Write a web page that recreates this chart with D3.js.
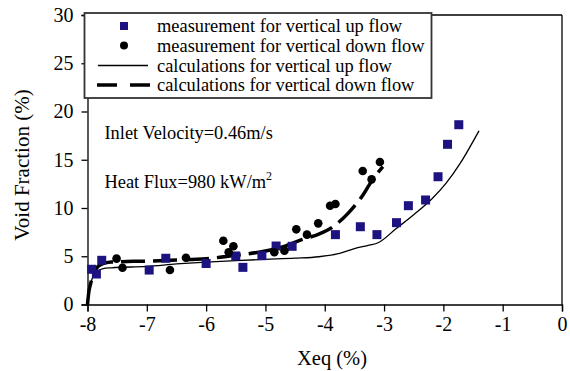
<!DOCTYPE html>
<html><head><meta charset="utf-8">
<script src="https://cdn.jsdelivr.net/npm/d3@7"></script>
<style>body{margin:0;background:#fff}svg{display:block}text{font-family:"Liberation Serif","Times New Roman",serif;fill:#000}</style>
</head><body>
<svg id="c" width="570" height="371"></svg>
<script>
const xTicks = [-8,-7,-6,-5,-4,-3,-2,-1,0];
const yTicks = [0,5,10,15,20,25,30];
const upX = [-7.93,-7.85,-7.76,-6.96,-6.68,-6.0,-5.50,-5.38,-5.06,-4.82,-4.55,-3.82,-3.40,-3.12,-2.79,-2.59,-2.30,-2.09,-1.93,-1.74];
const upY = [3.65,3.16,4.58,3.57,4.79,4.25,5.03,3.85,5.06,6.06,6.03,7.24,8.06,7.24,8.48,10.24,10.83,13.24,16.6,18.63];
const downX = [-7.51,-7.41,-6.61,-6.34,-5.71,-5.62,-5.54,-4.85,-4.68,-4.48,-4.30,-4.11,-3.91,-3.82,-3.36,-3.21,-3.07];
const downY = [4.75,3.81,3.57,4.85,6.61,5.41,6.03,5.41,5.58,7.79,7.24,8.41,10.24,10.41,13.83,12.97,14.77];
const calcUpX = [-8,-7.98,-7.95,-7.92,-7.88,-7.83,-7.75,-7.6,-7.0,-6.5,-6.0,-5.5,-5.0,-4.5,-4.1,-3.75,-3.5,-3.25,-3.1,-2.8,-2.5,-2.2,-1.95,-1.72,-1.4];
const calcUpY = [0,1.2,2.1,2.7,3.1,3.45,3.7,3.8,3.95,4.2,4.4,4.55,4.68,4.8,4.95,5.3,5.8,6.15,6.4,7.85,9.3,10.9,12.6,14.6,18.0];
const calcDownX = [-8,-7.98,-7.95,-7.92,-7.88,-7.83,-7.75,-7.6,-7.0,-6.5,-6.0,-5.5,-5.0,-4.7,-4.4,-4.1,-3.9,-3.75,-3.6,-3.5,-3.35,-3.25,-3.15,-3.02];
const calcDownY = [0,1.2,2.1,2.8,3.4,3.9,4.2,4.4,4.5,4.6,4.75,5.1,5.55,6.0,6.7,7.3,7.9,8.6,9.5,10.2,11.4,12.4,13.3,14.3];
const legendLabels = ["measurement for vertical up flow","measurement for vertical down flow","calculations for vertical up flow","calculations for vertical down flow"];

const svg = d3.select("#c");
const L=87.5, R=562, T=15, B=304.5;
const x = d3.scaleLinear().domain([-8,0]).range([L,R]);
const y = d3.scaleLinear().domain([0,30]).range([B,T]);
const navy = "#1c1280";

// frame top/right
svg.append("line").attr("x1",L).attr("x2",R).attr("y1",T).attr("y2",T).attr("stroke","#000").attr("stroke-width",1.3);
svg.append("line").attr("x1",R).attr("x2",R).attr("y1",T).attr("y2",B).attr("stroke","#000").attr("stroke-width",1.3);

const xa = svg.append("g").attr("transform",`translate(0,${B})`)
  .call(d3.axisBottom(x).tickValues(xTicks).tickFormat(d=>String(d)).tickSizeOuter(0).tickSize(7).tickPadding(5));
const ya = svg.append("g").attr("transform",`translate(${L},0)`)
  .call(d3.axisLeft(y).tickValues(yTicks).tickFormat(d=>String(d)).tickSizeOuter(0).tickSize(6).tickPadding(8));
[xa,ya].forEach(a=>{
  a.attr("font-family",null);
  a.selectAll("path,line").attr("stroke","#000").attr("stroke-width",1.3);
  a.selectAll("text").attr("font-size",20).attr("fill","#000");
});

const lineGen = d3.line().x(d=>x(d[0])).y(d=>y(d[1])).curve(d3.curveMonotoneX);
svg.append("path").datum(calcUpX.map((v,i)=>[v,calcUpY[i]])).attr("d",lineGen)
  .attr("fill","none").attr("stroke","#000").attr("stroke-width",1.3);
svg.append("path").datum(calcDownX.map((v,i)=>[v,calcDownY[i]])).attr("d",lineGen)
  .attr("fill","none").attr("stroke","#000").attr("stroke-width",3.5).attr("stroke-dasharray","24,8");

svg.append("g").selectAll("rect").data(upX.map((v,i)=>[v,upY[i]])).join("rect")
  .attr("x",d=>x(d[0])-4.5).attr("y",d=>y(d[1])-4.5).attr("width",9).attr("height",9).attr("fill",navy);
svg.append("g").selectAll("circle").data(downX.map((v,i)=>[v,downY[i]])).join("circle")
  .attr("cx",d=>x(d[0])).attr("cy",d=>y(d[1])).attr("r",4.3).attr("fill","#000");

// legend
const lg = svg.append("g");
lg.append("rect").attr("x",84.5).attr("y",13).attr("width",347).attr("height",85)
  .attr("fill","#fff").attr("stroke","#333").attr("stroke-width",1.8);
const rowY = [26,45.5,65.5,85];
lg.append("rect").attr("x",120).attr("y",rowY[0]-4).attr("width",8).attr("height",8).attr("fill",navy);
lg.append("circle").attr("cx",124).attr("cy",rowY[1]).attr("r",4).attr("fill","#000");
lg.append("line").attr("x1",98).attr("x2",148).attr("y1",rowY[2]).attr("y2",rowY[2]).attr("stroke","#000").attr("stroke-width",1.3);
lg.append("line").attr("x1",97).attr("x2",150).attr("y1",rowY[3]).attr("y2",rowY[3]).attr("stroke","#000").attr("stroke-width",3.5).attr("stroke-dasharray","20,13");
lg.selectAll("text").data(legendLabels).join("text")
  .attr("x",157).attr("y",(d,i)=>rowY[i]+6).attr("font-size",18.4).text(d=>d);

// annotations
svg.append("text").attr("x",104.5).attr("y",139).attr("font-size",18.4).text("Inlet Velocity=0.46m/s");
const hf = svg.append("text").attr("x",104.5).attr("y",188).attr("font-size",18.4);
hf.append("tspan").text("Heat Flux=980 kW/m");
hf.append("tspan").attr("dy",-8).attr("font-size",12).text("2");

// axis titles
svg.append("text").attr("x",332).attr("y",365).attr("text-anchor","middle").attr("font-size",20.5).text("Xeq (%)");
svg.append("text").attr("transform","translate(29,165) rotate(-90)").attr("text-anchor","middle").attr("font-size",21).text("Void Fraction (%)");
</script>
</body></html>
